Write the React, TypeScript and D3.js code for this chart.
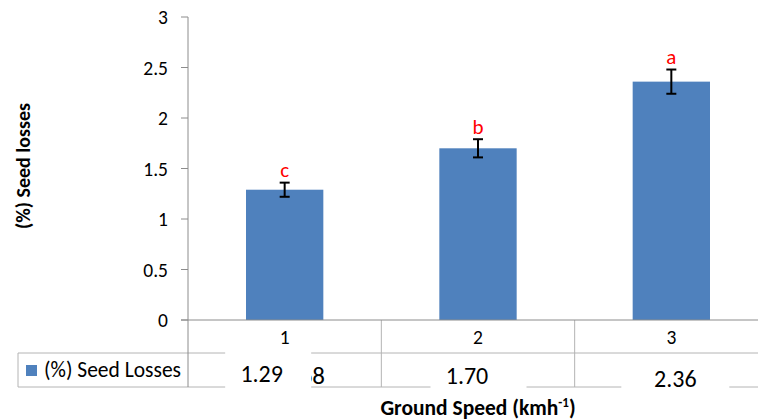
import React from "react";
import * as d3 from "d3";

const categories = ["1", "2", "3"];
const seedLosses = [1.29, 1.70, 2.36];
const errors = [0.07, 0.09, 0.12];
const letters = ["c", "b", "a"];
const tableLabels = ["1.29", "1.70", "2.36"];
const hiddenLabel = "1.68";
const yTicks = [0, 0.5, 1, 1.5, 2, 2.5, 3];
const seriesName = "(%) Seed Losses";
const yTitle = "(%) Seed losses";

const W = 758;
const H = 419;
const FONT = "Carlito, Calibri, Lato, sans-serif";
const BAR = "#4f81bd";
const AXIS = "#8c8c8c";
const GRID = "#b4b4b4";

// layout of the pasted text boxes (offsets from cell centres)
const labelDx = [-23, -11, 4];
const labelBase = [381.5, 384, 386.5];
const boxDx = [-16.5, 0.5, 4];
const boxW = [86, 96, 108];
const boxTop = [349, 356, 356];

export default function App() {
  const y = d3.scaleLinear().domain([0, 3]).range([320, 17]);
  const x = d3.scaleBand<string>().domain(categories).range([188, 768]).padding(0);
  const bw = x.bandwidth() / 2.5;
  const rowTop = 353;
  const rowBot = 387;
  const tableLeft = 18;

  return (
    <svg
      width={W}
      height={H}
      style={{ position: "absolute", left: 0, top: 0, background: "#fff" }}
      fontFamily={FONT}
    >
      <rect x={0} y={0} width={W} height={H} fill="#fff" />
      {/* bars */}
      {categories.map((c, i) => {
        const cx = x(c)! + x.bandwidth() / 2;
        return (
          <rect key={c} x={cx - bw / 2} y={y(seedLosses[i])} width={bw} height={y(0) - y(seedLosses[i])} fill={BAR} />
        );
      })}
      {/* table lines */}
      <line x1={tableLeft} x2={W} y1={rowTop} y2={rowTop} stroke={GRID} strokeWidth={1} />
      <line x1={tableLeft} x2={W} y1={rowBot} y2={rowBot} stroke={GRID} strokeWidth={1} />
      <line x1={tableLeft} x2={tableLeft} y1={rowTop} y2={rowBot} stroke={GRID} strokeWidth={1} />
      {categories.map((c) => (
        <line key={"v" + c} x1={x(c)! + x.bandwidth()} x2={x(c)! + x.bandwidth()} y1={y(0)} y2={rowBot} stroke={GRID} strokeWidth={1} />
      ))}
      {/* y axis */}
      <line x1={188} x2={188} y1={y(3)} y2={rowBot} stroke={AXIS} strokeWidth={1} />
      <line x1={181} x2={768} y1={y(0)} y2={y(0)} stroke={AXIS} strokeWidth={1} />
      {yTicks.map((t) => (
        <g key={t}>
          <line x1={181} x2={188} y1={y(t)} y2={y(t)} stroke={AXIS} strokeWidth={1} />
          <text x={168} y={y(t) + 7} textAnchor="end" fontSize={19.5} fill="#000">
            {String(t)}
          </text>
        </g>
      ))}
      {/* error bars and letters */}
      {categories.map((c, i) => {
        const cx = x(c)! + x.bandwidth() / 2;
        const top = y(seedLosses[i] + errors[i]);
        const bot = y(seedLosses[i] - errors[i]);
        return (
          <g key={"e" + c}>
            <line x1={cx} x2={cx} y1={top} y2={bot} stroke="#000" strokeWidth={2} />
            <line x1={cx - 5} x2={cx + 5} y1={top} y2={top} stroke="#000" strokeWidth={2} />
            <line x1={cx - 5} x2={cx + 5} y1={bot} y2={bot} stroke="#000" strokeWidth={2} />
            <text x={cx} y={top - 5.5} textAnchor="middle" fontSize={21} fill="#ff0000">
              {letters[i]}
            </text>
          </g>
        );
      })}
      {/* category labels */}
      {categories.map((c) => (
        <text key={"c" + c} x={x(c)! + x.bandwidth() / 2} y={344} textAnchor="middle" fontSize={19.5} fill="#000">
          {c}
        </text>
      ))}
      {/* legend */}
      <rect x={26} y={365} width={11} height={11} fill={BAR} />
      <text x={44} y={376.5} fontSize={21.5} fill="#000">
        {seriesName}
      </text>
      {/* original table value partly hidden */}
      <text x={325} y={384} textAnchor="end" fontSize={25} fill="#000">
        {hiddenLabel}
      </text>
      {/* pasted value boxes */}
      {categories.map((c, i) => {
        const cx = x(c)! + x.bandwidth() / 2;
        return (
          <g key={"b" + c}>
            <rect x={cx + boxDx[i] - boxW[i] / 2} y={boxTop[i]} width={boxW[i]} height={392 - boxTop[i]} fill="#fff" />
            <text x={cx + labelDx[i]} y={labelBase[i]} textAnchor="middle" fontSize={24} fill="#000">
              {tableLabels[i]}
            </text>
          </g>
        );
      })}
      {/* axis titles */}
      <text
        transform={`translate(30,166) rotate(-90)`}
        textAnchor="middle"
        fontSize={20}
        fontWeight="bold"
        fill="#000"
      >
        {yTitle}
      </text>
      <text x={478} y={414.5} textAnchor="middle" fontSize={21.5} fontWeight="bold" fill="#000">
        Ground Speed (kmh
        <tspan dy={-8} fontSize={13}>-1</tspan>
        <tspan dy={8}>)</tspan>
      </text>
    </svg>
  );
}
